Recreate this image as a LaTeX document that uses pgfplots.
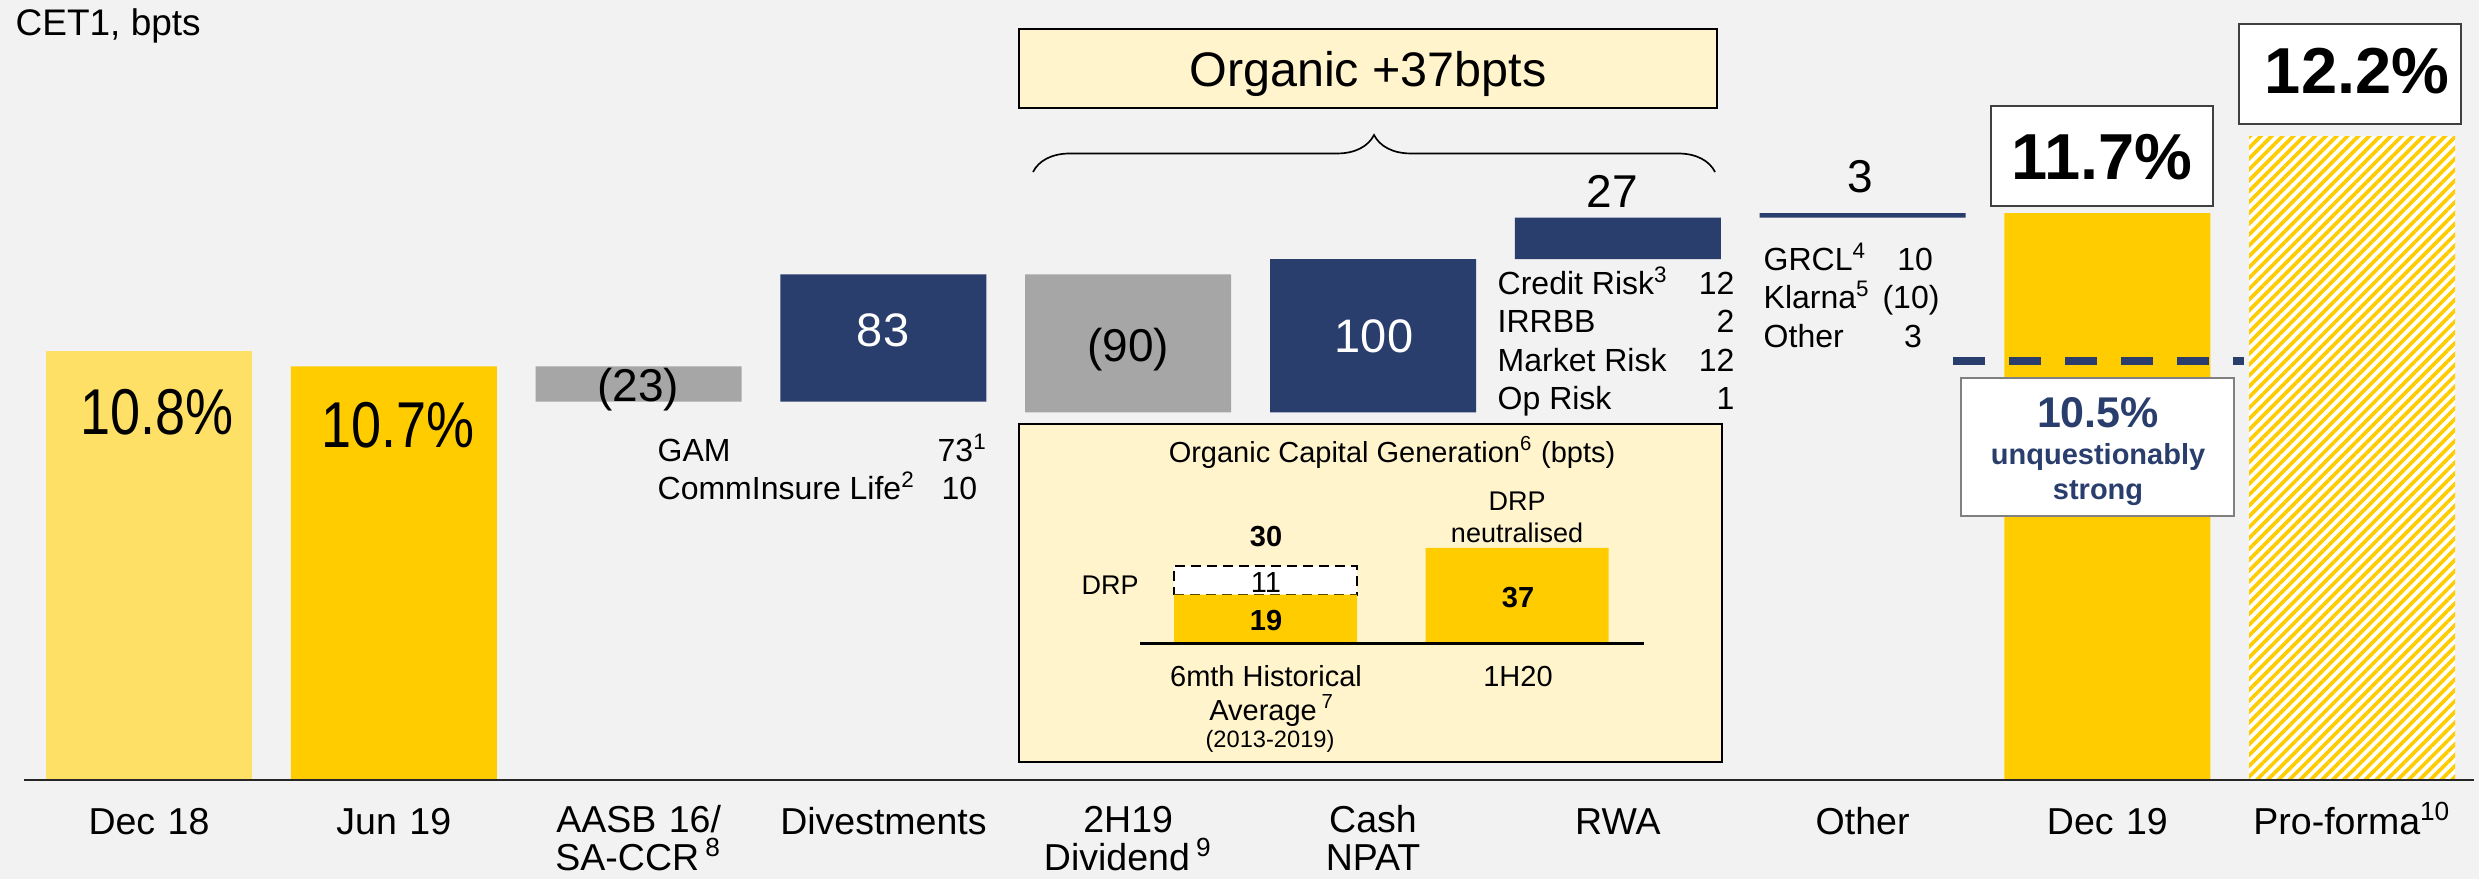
\documentclass[border=0pt]{standalone}
\usepackage{fontspec}
\setmainfont{Liberation Sans}
\usepackage{graphicx}
\usepackage{pgfplots}
\pgfplotsset{compat=1.18}
\usetikzlibrary{patterns.meta,decorations.pathreplacing}
\definecolor{bg}{HTML}{F2F2F2}
\definecolor{lyel}{HTML}{FFE066}
\definecolor{yel}{HTML}{FFCC00}
\definecolor{gry}{HTML}{A6A6A6}
\definecolor{navy}{HTML}{2A3E6D}
\definecolor{cream}{HTML}{FFF4CC}
\definecolor{bord}{HTML}{404040}
\newcommand{\fs}[1]{\fontsize{#1}{#1}\selectfont}

\begin{document}
\begin{tikzpicture}
\path[use as bounding box, fill=bg] (0pt,-29.7pt) rectangle (743.7pt,234pt);
\begin{axis}[
  at={(0pt,0pt)}, anchor=south west,
  scale only axis, width=743.7pt, height=234pt,
  xmin=-0.6087, xmax=9.5181, ymin=800, ymax=1309.1,
  enlargelimits=false,
  ybar stacked, bar width=61.8pt,
  clip mode=individual,
  axis line style={draw=none},
  major tick length=0pt,
  ytick=\empty,
  xtick={0,...,9},
  xticklabels={Dec 18, Jun 19, {AASB 16/\\SA-CCR\,\textsuperscript{8}}, Divestments, {2H19\\Dividend\,\textsuperscript{9}}, {Cash\\NPAT}, RWA, Other, Dec 19, Pro-forma\textsuperscript{10}},
  xticklabel style={font=\fs{11.25pt}, align=center, text width=100pt, anchor=north, text height=0pt, inner sep=0pt, yshift=-15.6pt},
]
% invisible bases of the floating bars
\addplot[draw=none, fill=none] coordinates {(0,0) (1,0) (2,1047) (3,1047) (4,1040) (5,1040) (6,1140) (7,1167) (8,0) (9,0)};
\addplot[draw=none, fill=lyel] coordinates {(0,1080) (1,0) (2,0) (3,0) (4,0) (5,0) (6,0) (7,0) (8,0) (9,0)};
\addplot[draw=none, fill=yel] coordinates {(0,0) (1,1070) (2,0) (3,0) (4,0) (5,0) (6,0) (7,0) (8,1170) (9,0)};
\addplot[draw=none, fill=gry] coordinates {(0,0) (1,0) (2,23) (3,0) (4,90) (5,0) (6,0) (7,0) (8,0) (9,0)};
\addplot[draw=none, fill=navy] coordinates {(0,0) (1,0) (2,0) (3,83) (4,0) (5,100) (6,27) (7,3) (8,0) (9,0)};
\addplot[draw=none, fill=white, postaction={pattern={Lines[angle=45,distance=2.3pt,line width=1.1pt]}, pattern color=yel}] coordinates {(0,0) (1,0) (2,0) (3,0) (4,0) (5,0) (6,0) (7,0) (8,0) (9,1220)};
\end{axis}

\begin{scope}[x=0.3pt, y=-0.3pt, yshift=234pt]
\draw[black!85, line width=0.45pt] (24,780) -- (2474,780);
\node[anchor=base west, font=\fs{11.1pt}, inner sep=0pt] at (15,36) {CET1, bpts};
% bar values
\node[anchor=base, font=\fs{16.2pt}, inner sep=0pt] at (157,435) {\scalebox{1}[1.2]{10.8\%}};
\node[anchor=base, font=\fs{16.2pt}, inner sep=0pt] at (398,448) {\scalebox{1}[1.2]{10.7\%}};
\node[anchor=base, font=\fs{13.8pt}, inner sep=0pt] at (638,402) {(23)};
\node[anchor=base, font=\fs{14.1pt}, inner sep=0pt, text=white] at (883,347) {83};
\node[anchor=base, font=\fs{13.8pt}, inner sep=0pt] at (1128,362) {(90)};
\node[anchor=base, font=\fs{14.1pt}, inner sep=0pt, text=white] at (1374,353) {100};
\node[anchor=base, font=\fs{13.8pt}, inner sep=0pt] at (1612,208) {27};
\node[anchor=base, font=\fs{13.8pt}, inner sep=0pt] at (1860,193) {3};
% divestments breakdown
\begin{scope}[every node/.style={font=\fs{9.6pt}, inner sep=0pt}]
\node[anchor=base west] at (657,462) {GAM};
\node[anchor=base west] at (937,462) {73\textsuperscript{1}};
\node[anchor=base west] at (657,500) {CommInsure Life\textsuperscript{2}};
\node[anchor=base west] at (941,500) {10};
% RWA breakdown
\node[anchor=base west] at (1497,295) {Credit Risk\textsuperscript{3}};
\node[anchor=base east] at (1735,295) {12};
\node[anchor=base west] at (1497,333) {IRRBB};
\node[anchor=base east] at (1735,333) {2};
\node[anchor=base west] at (1497,372) {Market Risk};
\node[anchor=base east] at (1735,372) {12};
\node[anchor=base west] at (1497,410) {Op Risk};
\node[anchor=base east] at (1735,410) {1};
% other breakdown
\node[anchor=base west] at (1763,271) {GRCL\textsuperscript{4}};
\node[anchor=base] at (1915,271) {10};
\node[anchor=base west] at (1763,309) {Klarna\textsuperscript{5}};
\node[anchor=base] at (1911,309) {(10)};
\node[anchor=base west] at (1763,348) {Other};
\node[anchor=base] at (1913,348) {3};
\end{scope}
% organic box and brace
\draw[fill=cream, draw=black, line width=0.5pt] (1019,29) rectangle (1717,108);
\node[anchor=base, font=\fs{14.55pt}, inner sep=0pt] at (1368,87) {Organic +37bpts};
\draw[decorate, decoration={brace, amplitude=11.1pt}, line width=0.5pt] (1033,172) -- (1715,172);
% percentage boxes
\draw[fill=white, draw=bord, line width=0.6pt] (1991,106) rectangle (2213,206);
\node[anchor=base, font=\bfseries\fs{19.5pt}, inner sep=0pt] at (2102,180) {11.7\%};
\draw[fill=white, draw=bord, line width=0.6pt] (2239,24) rectangle (2461,124);
\node[anchor=base, font=\bfseries\fs{19.5pt}, inner sep=0pt] at (2357,94) {12.2\%};
% 10.5% target
\draw[navy, line width=2.4pt, dash pattern=on 9.6pt off 7.2pt] (1953,361) -- (2244,361);
\draw[fill=white, draw=gray, line width=0.5pt] (1961,378) rectangle (2234,516);
\node[anchor=base, font=\bfseries\fs{12.9pt}, inner sep=0pt, text=navy] at (2098,428) {10.5\%};
\node[anchor=base, font=\bfseries\fs{8.7pt}, inner sep=0pt, text=navy] at (2098,465) {unquestionably};
\node[anchor=base, font=\bfseries\fs{8.7pt}, inner sep=0pt, text=navy] at (2098,500) {strong};
% inner panel background
\draw[fill=cream, draw=black, line width=0.5pt] (1019,424) rectangle (1722,762);
\end{scope}

\begin{axis}[
  at={(342pt,40.8pt)}, anchor=south west,
  scale only axis, width=151.2pt, height=31.2pt,
  xmin=-0.499, xmax=1.505, ymin=0, ymax=40,
  enlargelimits=false,
  ybar stacked, bar width=54.9pt,
  hide axis, clip=false,
]
\addplot[draw=none, fill=yel] coordinates {(0,19) (1,37)};
\addplot[fill=white, draw=black, line width=0.6pt, dash pattern=on 3pt off 1.8pt] coordinates {(0,11)};
\end{axis}

\begin{scope}[x=0.3pt, y=-0.3pt, yshift=234pt]
\draw[black, line width=0.9pt] (1140,644) -- (1644,644);
\begin{scope}[every node/.style={inner sep=0pt, anchor=base}]
\node[font=\fs{8.7pt}] at (1392,463) {Organic Capital Generation\textsuperscript{6} (bpts)};
\node[font=\fs{8.1pt}] at (1110,595) {DRP};
\node[font=\bfseries\fs{8.7pt}] at (1266,547) {30};
\node[font=\fs{8.7pt}] at (1266,593) {11};
\node[font=\bfseries\fs{8.7pt}] at (1266,631) {19};
\node[font=\bfseries\fs{8.7pt}] at (1518,608) {37};
\node[font=\fs{8.1pt}] at (1517,511) {DRP};
\node[font=\fs{8.1pt}] at (1517,543) {neutralised};
\node[font=\fs{8.7pt}] at (1266,687) {6mth Historical};
\node[font=\fs{8.7pt}] at (1272,721) {Average\,\textsuperscript{7}};
\node[font=\fs{7.1pt}] at (1270,748) {(2013-2019)};
\node[font=\fs{8.7pt}] at (1518,687) {1H20};
\end{scope}
\end{scope}
\end{tikzpicture}
\end{document}
